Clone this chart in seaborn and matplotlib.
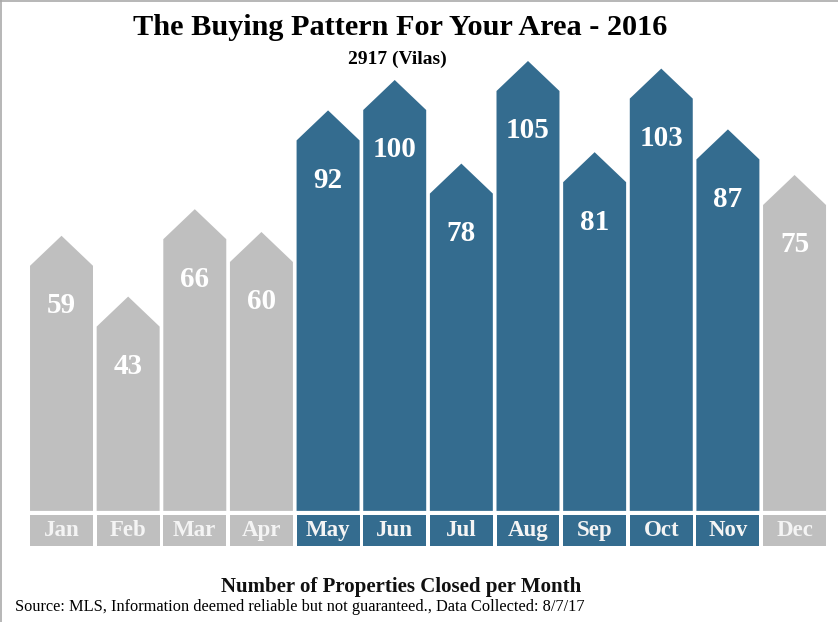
import matplotlib
matplotlib.use("Agg")
import matplotlib.pyplot as plt
import seaborn as sns
import pandas as pd
from matplotlib.patches import Polygon, Rectangle
from matplotlib.lines import Line2D

# data
months = ["Jan", "Feb", "Mar", "Apr", "May", "Jun",
          "Jul", "Aug", "Sep", "Oct", "Nov", "Dec"]
closed = [59, 43, 66, 60, 92, 100, 78, 105, 81, 103, 87, 75]
peak_months = ["May", "Jun", "Jul", "Aug", "Sep", "Oct", "Nov"]

title = "The Buying Pattern For Your Area - 2016"
subtitle = "2917 (Vilas)"
footer = "Number of Properties Closed per Month"
source = "Source: MLS, Information deemed reliable but not guaranteed., Data Collected: 8/7/17"

gray = "#bfbfbf"
blue = "#346c8f"

df = pd.DataFrame({"month": months, "closed": closed})
df["season"] = ["peak" if m in peak_months else "off" for m in months]

sns.set_theme(style="white")
plt.rcParams["font.family"] = ["Liberation Serif", "DejaVu Serif"]

fig = plt.figure(figsize=(8.38, 6.22), dpi=100)
ax = fig.add_axes([0, 0, 1, 1])
sns.barplot(data=df, x="month", y="closed", hue="season",
            palette={"off": gray, "peak": blue}, width=0.945,
            dodge=False, legend=False, saturation=1, ax=ax)

roof = 7.9        # height of the pointed top
base = -5.5       # bars run a bit below zero
box_top, box_bot = -6.6, -14.7

for p in list(ax.patches):
    x0, w, h = p.get_x(), p.get_width(), p.get_height()
    col = p.get_facecolor()
    xc = x0 + w / 2
    # swap each bar for a house shape on the same footprint
    p.set_visible(False)
    ax.add_patch(Polygon([(x0, base), (x0, h), (xc, h + roof),
                          (x0 + w, h), (x0 + w, base)],
                         closed=True, facecolor=col, edgecolor="none"))
    ax.add_patch(Rectangle((x0, box_bot), w, box_top - box_bot,
                           facecolor=col, edgecolor="none"))
    idx = int(round(xc))
    ax.text(xc, h - 10.5, str(int(round(h))), ha="center", va="center",
            color="white", fontsize=21, fontweight="bold")
    ax.text(xc, (box_top + box_bot) / 2, months[idx], ha="center", va="center",
            color="#f4f4f4", fontsize=16.5, fontweight="bold")

ax.set_xlim(-0.923, 11.652)
ax.set_ylim(-34.74, 128.95)
ax.axis("off")

fig.text(0.477, 0.955, title, ha="center", va="center",
         fontsize=21.8, fontweight="bold", color="black")
fig.text(0.474, 0.904, subtitle, ha="center", va="center",
         fontsize=14, fontweight="bold", color="black")
fig.text(0.479, 0.056, footer, ha="center", va="center",
         fontsize=15, fontweight="bold", color="#111111")
fig.text(0.018, 0.024, source, ha="left", va="center",
         fontsize=11.8, color="black")

# thin frame on top and left
fig.add_artist(Line2D([0, 1], [0.999, 0.999], transform=fig.transFigure,
                      color="#aaaaaa", linewidth=1.2))
fig.add_artist(Line2D([0.001, 0.001], [0, 1], transform=fig.transFigure,
                      color="#aaaaaa", linewidth=1.2))

fig.savefig("out.png", dpi=100)
plt.close(fig)
